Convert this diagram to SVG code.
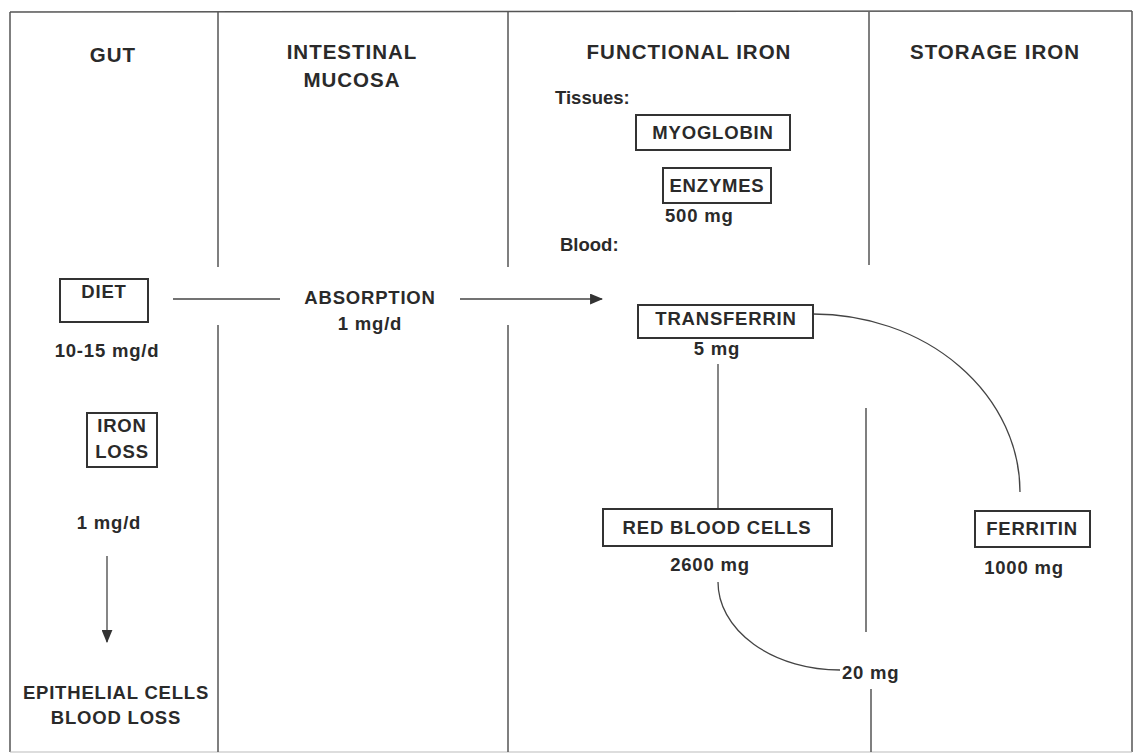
<svg xmlns="http://www.w3.org/2000/svg" width="1135" height="754" viewBox="0 0 1135 754">
<defs>
<style>
text{font-family:"Liberation Sans",Arial,sans-serif;font-weight:bold;fill:#2a2a2a;font-size:18.5px;letter-spacing:0.8px}
.h{font-size:20.5px;letter-spacing:1px}
.t{letter-spacing:0}
.m{text-anchor:middle}
.box{fill:#fff;stroke:#333;stroke-width:2}
.ln{fill:none;stroke:#444;stroke-width:1.3}
.fr{fill:none;stroke:#555;stroke-width:1.5}
</style>
<marker id="ah" viewBox="0 0 12 10" refX="11" refY="5" markerWidth="13" markerHeight="11" markerUnits="userSpaceOnUse" orient="auto">
<path d="M0,0 L12,5 L0,10 z" fill="#333"/>
</marker>
</defs>
<rect width="1135" height="754" fill="#fff"/>
<g id="frame">
<line class="fr" x1="10" y1="12" x2="1132" y2="11"/>
<line class="fr" x1="10" y1="12" x2="10" y2="752"/>
<line class="fr" x1="1132" y1="11" x2="1132" y2="752"/>
<line x1="10" y1="752" x2="1132" y2="752" stroke="#bbb" stroke-width="1"/>
<line class="fr" x1="218" y1="12" x2="218" y2="267"/>
<line class="fr" x1="218" y1="325" x2="218" y2="752"/>
<line class="fr" x1="508" y1="12" x2="508" y2="267"/>
<line class="fr" x1="508" y1="325" x2="508" y2="752"/>
<line class="fr" x1="869" y1="12" x2="869" y2="265"/>
<line class="fr" x1="866" y1="408" x2="866" y2="632"/>
<line class="fr" x1="871" y1="689" x2="871" y2="752"/>
</g>
<g id="headers">
<text class="h m" x="113" y="62">GUT</text>
<text class="h m" x="352" y="59">INTESTINAL</text>
<text class="h m" x="352" y="87">MUCOSA</text>
<text class="h m" x="689" y="59">FUNCTIONAL IRON</text>
<text class="h m" x="995" y="59">STORAGE IRON</text>
<text class="t" x="555" y="104">Tissues:</text>
<text class="t" x="560" y="251">Blood:</text>
</g>
<g id="connectors">
<line class="ln" x1="173" y1="299" x2="280" y2="299"/>
<line class="ln" x1="460" y1="299" x2="602" y2="299" marker-end="url(#ah)"/>
<line class="ln" x1="107" y1="556" x2="107" y2="642" marker-end="url(#ah)"/>
<line class="ln" x1="718" y1="364" x2="718" y2="509"/>
<path class="ln" d="M813,314 A207,178 0 0 1 1020,492"/>
<path class="ln" d="M718,582 A122,88 0 0 0 840,670"/>
</g>
<g id="diet">
<rect class="box" x="60" y="279" width="88" height="43"/>
<text class="m" x="104" y="298">DIET</text>
<text class="m" x="107" y="357">10-15 mg/d</text>
</g>
<g id="ironloss">
<rect class="box" x="87" y="413" width="70" height="54"/>
<text class="m" x="122" y="432">IRON</text>
<text class="m" x="122" y="458">LOSS</text>
<text class="m" x="109" y="529">1 mg/d</text>
</g>
<g id="epithelial">
<text class="m" x="116" y="699">EPITHELIAL CELLS</text>
<text class="m" x="116" y="724">BLOOD LOSS</text>
</g>
<g id="absorption">
<text class="m" x="370" y="304">ABSORPTION</text>
<text class="m" x="370" y="330">1 mg/d</text>
</g>
<g id="myoglobin">
<rect class="box" x="636" y="115" width="154" height="35"/>
<text class="m" x="713" y="139">MYOGLOBIN</text>
</g>
<g id="enzymes">
<rect class="box" x="663" y="168" width="108" height="35"/>
<text class="m" x="717" y="192">ENZYMES</text>
<text x="665" y="222">500 mg</text>
</g>
<g id="transferrin">
<rect class="box" x="638" y="305" width="175" height="33"/>
<text class="m" x="726" y="325">TRANSFERRIN</text>
<text class="m" x="717" y="355">5 mg</text>
</g>
<g id="rbc">
<rect class="box" x="603" y="509" width="229" height="37"/>
<text class="m" x="717" y="534">RED BLOOD CELLS</text>
<text class="m" x="710" y="571">2600 mg</text>
</g>
<g id="ferritin">
<rect class="box" x="975" y="511" width="115" height="36"/>
<text class="m" x="1032" y="535">FERRITIN</text>
<text class="m" x="1024" y="574">1000 mg</text>
</g>
<g id="loss20">
<text x="842" y="679">20 mg</text>
</g>
</svg>
